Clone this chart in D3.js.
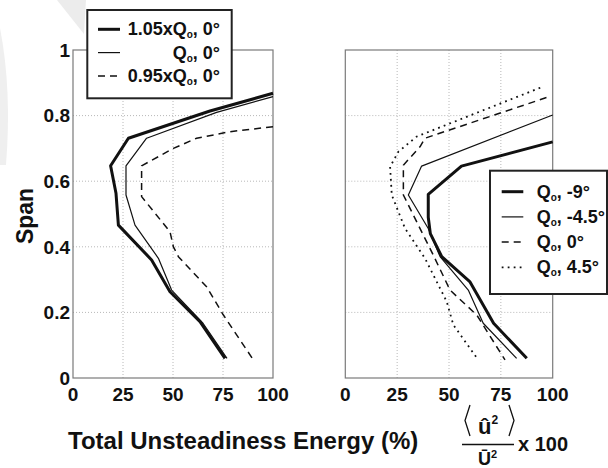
<!DOCTYPE html>
<meta charset="utf-8">
<head>
    <script type="text/javascript" src="https://d3js.org/d3.v7.min.js"></script>
    <style>
        body { margin: 0; background: #fff; }
        text { font-family: "Liberation Sans", Arial, Helvetica, sans-serif; font-weight: bold; fill: #111; }
    </style>
    <title>Total Unsteadiness Energy vs Span</title>
</head>
<body>
<div id="chart"></div>
<script type="text/javascript">

    // ticks
    var xTicks = [0, 25, 50, 75, 100];
    var yTicks = [0, 0.2, 0.4, 0.6, 0.8, 1];
    var yTickLabels = ["0", "0.2", "0.4", "0.6", "0.8", "1"];

    // left panel: flow rate variation at 0 deg
    var hiQEnergy  = [100, 68.5, 27.7, 18.8, 21.5, 22.7, 39.3, 48.5, 63.5, 76];
    var hiQSpan    = [0.868, 0.814, 0.731, 0.647, 0.563, 0.466, 0.36, 0.263, 0.172, 0.06];
    var nomQEnergy = [100, 71.8, 36.8, 26.5, 26.5, 31, 42.7, 49.3, 65, 77];
    var nomQSpan   = [0.858, 0.81, 0.731, 0.647, 0.558, 0.466, 0.365, 0.268, 0.167, 0.06];
    var loQEnergy  = [100, 78.5, 61.8, 50.2, 34.3, 34.3, 48.5, 50.2, 52.7, 66.8, 75.2, 90.2];
    var loQSpan    = [0.766, 0.751, 0.731, 0.70, 0.647, 0.553, 0.446, 0.40, 0.37, 0.278, 0.192, 0.055];

    // right panel: incidence variation at Qo
    var m9Energy  = [100, 56, 40, 40, 41, 46.5, 60, 71.5, 87.5];
    var m9Span    = [0.72, 0.646, 0.56, 0.49, 0.44, 0.37, 0.294, 0.167, 0.06];
    var m45Energy = [100, 36.8, 30.4, 40, 45.7, 59.3, 66.5, 82.6];
    var m45Span   = [0.802, 0.646, 0.558, 0.456, 0.37, 0.268, 0.167, 0.06];
    var z0Energy  = [97, 38.4, 36, 28, 28, 36, 42.4, 50.5, 63.4, 77];
    var z0Span    = [0.855, 0.731, 0.705, 0.649, 0.558, 0.456, 0.375, 0.268, 0.192, 0.055];
    var p45Energy = [94, 34.4, 25.6, 21.6, 22.4, 28.8, 38.4, 48.9, 52.1, 64.1];
    var p45Span   = [0.885, 0.736, 0.69, 0.644, 0.558, 0.456, 0.365, 0.233, 0.162, 0.055];

    var leftLabels  = [["1.05xQ", ", 0°"], ["Q", ", 0°"], ["0.95xQ", ", 0°"]];
    var rightLabels = [["Q", ", -9°"], ["Q", ", -4.5°"], ["Q", ", 0°"], ["Q", ", 4.5°"]];

    var styles = {
        thick:  { width: 3,   dash: null },
        thin:   { width: 1.2, dash: null },
        dashed: { width: 1.5, dash: "7,5" },
        dotted: { width: 1.8, dash: "1.8,4.2" }
    };

    var w = 608, h = 468;
    var svg = d3.select("#chart").append("svg")
                .attr("width", w)
                .attr("height", h);

    // faint scan marks in the top-left corner of the source figure
    svg.append("path")
        .attr("d", "M57,0 L86,0 L84,34 Z")
        .attr("fill", "#ececec");
    svg.append("path")
        .attr("d", "M0,28 Q12,90 6,165 L0,165 Z")
        .attr("fill", "#efefef");

    var y = d3.scaleLinear().domain([0, 1]).range([378, 50]);
    var xLeft = d3.scaleLinear().domain([0, 100]).range([73, 273]);
    var xRight = d3.scaleLinear().domain([0, 100]).range([345.3, 552.7]);

    function zip(a, b) {
        return a.map(function(v, i) { return [v, b[i]]; });
    }

    function drawPanel(x, series, showY) {
        var g = svg.append("g");
        var x0 = x.range()[0], x1 = x.range()[1];

        // dotted grid
        g.selectAll(".vgrid").data(xTicks.slice(1, -1)).enter().append("line")
            .attr("x1", function(d) { return x(d); }).attr("x2", function(d) { return x(d); })
            .attr("y1", y(0)).attr("y2", y(1))
            .attr("stroke", "#b8b8b8").attr("stroke-dasharray", "1,2");
        g.selectAll(".hgrid").data(yTicks.slice(1, -1)).enter().append("line")
            .attr("x1", x0).attr("x2", x1)
            .attr("y1", function(d) { return y(d); }).attr("y2", function(d) { return y(d); })
            .attr("stroke", "#b8b8b8").attr("stroke-dasharray", "1,2");

        // frame
        g.append("rect")
            .attr("x", x0).attr("y", y(1))
            .attr("width", x1 - x0).attr("height", y(0) - y(1))
            .attr("fill", "none").attr("stroke", "#7a7a7a").attr("stroke-width", 1.2);

        // x tick labels
        g.selectAll(".xl").data(xTicks).enter().append("text")
            .attr("x", function(d) { return x(d); })
            .attr("y", 401)
            .attr("text-anchor", "middle")
            .style("font-size", "19px")
            .text(function(d) { return d; });

        if (showY) {
            g.selectAll(".yl").data(yTicks).enter().append("text")
                .attr("x", x0 - 3)
                .attr("y", function(d) { return y(d); })
                .attr("dy", "0.36em")
                .attr("text-anchor", "end")
                .style("font-size", "19px")
                .text(function(d, i) { return yTickLabels[i]; });
        }

        var line = d3.line()
            .x(function(d) { return x(d[0]); })
            .y(function(d) { return y(d[1]); });

        series.forEach(function(s) {
            var st = styles[s.style];
            g.append("path")
                .datum(zip(s.energy, s.span))
                .attr("d", line)
                .attr("fill", "none")
                .attr("stroke", "#111")
                .attr("stroke-width", st.width)
                .attr("stroke-linejoin", "round")
                .attr("stroke-dasharray", st.dash);
        });
    }

    drawPanel(xLeft, [
        { energy: loQEnergy,  span: loQSpan,  style: "dashed" },
        { energy: nomQEnergy, span: nomQSpan, style: "thin" },
        { energy: hiQEnergy,  span: hiQSpan,  style: "thick" }
    ], true);

    drawPanel(xRight, [
        { energy: p45Energy, span: p45Span, style: "dotted" },
        { energy: z0Energy,  span: z0Span,  style: "dashed" },
        { energy: m45Energy, span: m45Span, style: "thin" },
        { energy: m9Energy,  span: m9Span,  style: "thick" }
    ], false);

    function addLabel(sel, parts) {
        sel.append("tspan").text(parts[0]);
        sel.append("tspan").text("o").style("font-size", "10px").attr("dy", 3);
        sel.append("tspan").text(parts[1]).attr("dy", -3);
    }

    // left legend
    var legL = svg.append("g");
    legL.append("rect")
        .attr("x", 87.3).attr("y", 10).attr("width", 144.4).attr("height", 88.3)
        .attr("fill", "#fff").attr("stroke", "#222").attr("stroke-width", 2);
    var leftStyles = ["thick", "thin", "dashed"];
    leftLabels.forEach(function(lab, i) {
        var ly = 29.3 + i * 23.3;
        var st = styles[leftStyles[i]];
        legL.append("line")
            .attr("x1", 98).attr("x2", 120).attr("y1", ly).attr("y2", ly)
            .attr("stroke", "#111").attr("stroke-width", st.width)
            .attr("stroke-dasharray", st.dash);
        var t = legL.append("text")
            .attr("x", 220).attr("y", ly + 6)
            .attr("text-anchor", "end")
            .style("font-size", "18px");
        addLabel(t, lab);
    });

    // right legend
    var legR = svg.append("g");
    legR.append("rect")
        .attr("x", 490).attr("y", 170.7).attr("width", 117).attr("height", 123.3)
        .attr("fill", "#fff").attr("stroke", "#222").attr("stroke-width", 2);
    var rightStyles = ["thick", "thin", "dashed", "dotted"];
    rightLabels.forEach(function(lab, i) {
        var ly = 191.7 + i * 25.2;
        var st = styles[rightStyles[i]];
        legR.append("line")
            .attr("x1", 501.7).attr("x2", 523.3).attr("y1", ly).attr("y2", ly)
            .attr("stroke", "#111").attr("stroke-width", st.width)
            .attr("stroke-dasharray", st.dash);
        var t = legR.append("text")
            .attr("x", 536.7).attr("y", ly + 6)
            .style("font-size", "18px");
        addLabel(t, lab);
    });

    // axis titles
    svg.append("text")
        .attr("transform", "translate(33,216) rotate(-90)")
        .attr("text-anchor", "middle")
        .style("font-size", "23px")
        .text("Span");

    svg.append("text")
        .attr("x", 68).attr("y", 449)
        .style("font-size", "24px")
        .text("Total Unsteadiness Energy (%)");

    // normalisation expression <u^2>/U^2 x 100
    var fr = svg.append("g");
    fr.append("path")
        .attr("d", "M470,405 L465,420.5 L470,436 M509,405 L514,420.5 L509,436")
        .attr("fill", "none").attr("stroke", "#111").attr("stroke-width", 1.3);
    var num = fr.append("text").attr("x", 478).attr("y", 434);
    num.append("tspan").style("font-size", "22px").text("û");
    num.append("tspan").style("font-size", "12px").attr("dy", -10).text("2");
    fr.append("line").attr("x1", 462).attr("x2", 514).attr("y1", 444.5).attr("y2", 444.5)
        .attr("stroke", "#111").attr("stroke-width", 1.3);
    var den = fr.append("text").attr("x", 478).attr("y", 464.5);
    den.append("tspan").style("font-size", "18px").text("Ū");
    den.append("tspan").style("font-size", "11px").attr("dy", -7).text("2");
    fr.append("text").attr("x", 518).attr("y", 451)
        .style("font-size", "20px").text("x 100");

</script>
</body>
